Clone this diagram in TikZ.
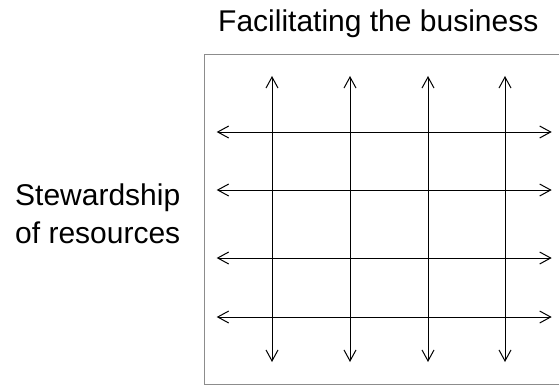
\documentclass[tikz,border=0pt]{standalone}
\usepackage{fontspec}
\setmainfont{Liberation Sans}
\usetikzlibrary{arrows.meta}
\begin{document}
\begin{tikzpicture}[x=1pt,y=-1pt,
  frame/.style={draw=black!45,line width=1pt},
  flow/.style={line width=1pt,{Straight Barb[length=11pt,width=12pt]}-{Straight Barb[length=11pt,width=12pt]}},
  label/.style={inner sep=0pt,font=\fontsize{30}{38}\selectfont}]
\useasboundingbox (0,0) rectangle (559,385);
\clip (0,0) rectangle (559,385);
% outer frame, running off the right edge
\draw[frame] (204,54.5) rectangle (600,384.3);
% labels
\node[label,anchor=base west] (title) at (218,32) {Facilitating the business};
\node[label,anchor=base west,align=right] (side) at (15,243) {Stewardship\\of resources};
% vertical arrow ends
\foreach \i/\x in {1/272,2/350,3/428,4/505}{
  \coordinate (t\i) at (\x,76);
  \coordinate (b\i) at (\x,362);
}
% horizontal arrow ends
\foreach \i/\y in {1/132,2/190,3/258,4/317}{
  \coordinate (l\i) at (216.7,\y);
  \coordinate (r\i) at (551.7,\y);
}
\foreach \i in {1,...,4}{
  \draw[flow] (b\i) -- (t\i);
  \draw[flow] (l\i) -- (r\i);
}
\end{tikzpicture}
\end{document}
